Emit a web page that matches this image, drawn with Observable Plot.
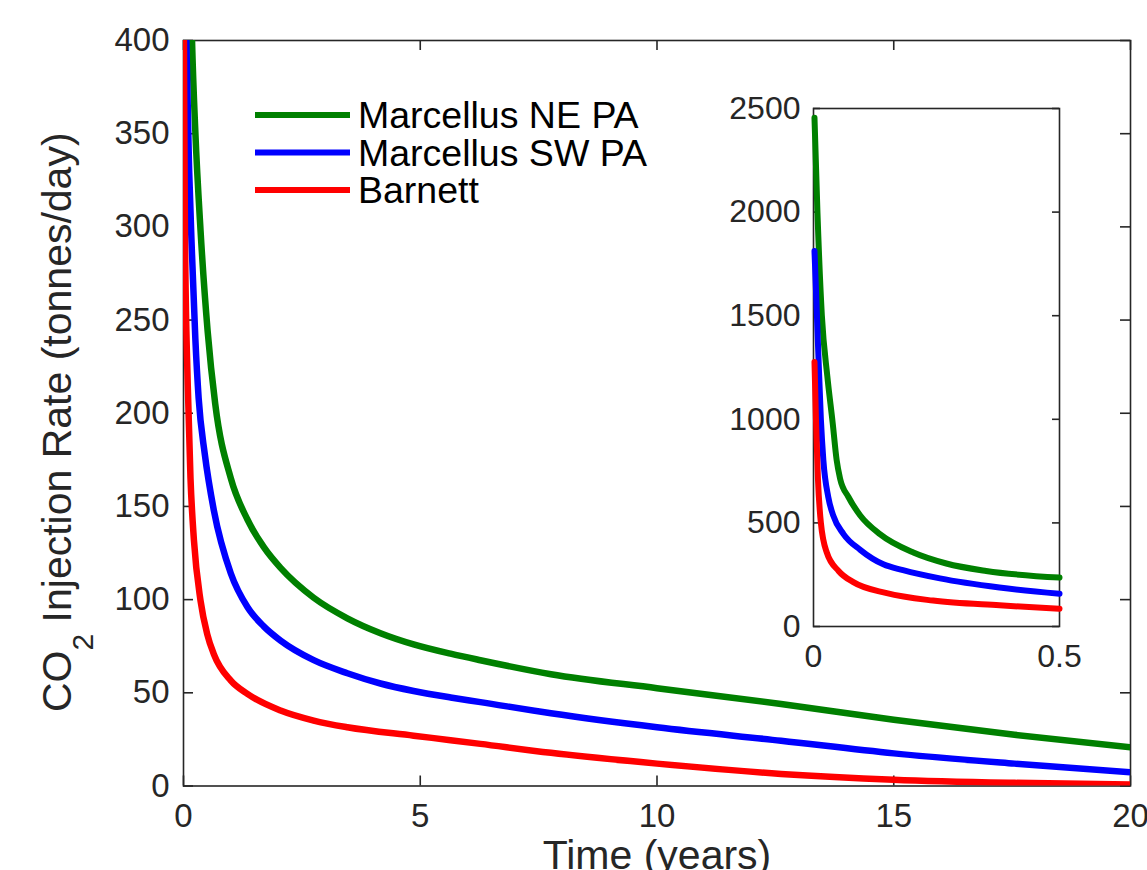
<!DOCTYPE html>
<html><head><meta charset="utf-8">
<script src="https://cdn.jsdelivr.net/npm/d3@7"></script>
<script src="https://cdn.jsdelivr.net/npm/@observablehq/plot@0.6"></script>
<style>
body{margin:0;background:#fff;}
#wrap{position:relative;width:1147px;height:870px;overflow:hidden;background:#fff;}
#wrap svg{position:absolute;}
</style></head><body><div id="wrap"></div>
<script>
// ---------- data ----------
const seriesNames = ["Marcellus NE PA", "Marcellus SW PA", "Barnett"];
const seriesColors = ["#008000", "#0000ff", "#ff0000"];

// main chart (years, tonnes/day)
const mainTimeGreen = [0.12, 0.18, 0.25, 0.36, 0.51, 0.67, 1.0, 1.35, 1.7, 2.05, 2.75, 3.46, 4.16, 4.86, 5.64, 6.27, 7.76, 10, 12.62, 15, 17.55, 20];
const mainGreen     = [470, 400, 351, 298, 244, 205, 165, 143, 128, 117, 101, 90, 82, 76, 71, 67.5, 60, 52.5, 44, 35.5, 27.5, 20.8];
const mainTimeBlue  = [0.02, 0.06, 0.12, 0.18, 0.25, 0.32, 0.45, 0.64, 1.0, 1.35, 1.7, 2.05, 2.75, 3.46, 4.16, 4.86, 5.64, 6.27, 7.76, 10, 12.62, 15, 17.55, 20];
const mainBlue      = [480, 400, 330, 285, 240, 208, 178, 148, 114, 96, 85.5, 78, 67.5, 60.5, 55, 51, 47.5, 45, 39, 31.5, 24.3, 17.5, 12, 7.4];
const mainTimeRed   = [0, 0.012, 0.03, 0.09, 0.148, 0.22, 0.36, 0.5, 0.64, 1.0, 1.35, 2.05, 2.75, 3.46, 4.86, 5.64, 6.27, 7.76, 10, 12.62, 15, 17.55, 20];
const mainRed       = [470, 380, 298, 215, 165, 132, 99.4, 81.6, 70.8, 56.5, 49.4, 40.5, 35.1, 31.5, 27, 24.6, 22.6, 17.8, 12, 6.5, 3.4, 1.7, 0.8];

// inset chart (first half year)
const insetTimeGreen = [0.002, 0.008, 0.017, 0.028, 0.039, 0.047, 0.054, 0.071, 0.095, 0.135, 0.203, 0.27, 0.351, 0.5];
const insetGreen     = [2455, 2000, 1500, 1210, 982, 804, 714, 625, 536, 446, 357, 304, 268, 236];
const insetTimeBlue  = [0.002, 0.007, 0.015, 0.02, 0.03, 0.04, 0.061, 0.095, 0.142, 0.182, 0.257, 0.378, 0.5];
const insetBlue      = [1812, 1500, 1000, 804, 625, 536, 446, 370, 300, 272, 232, 188, 158];
const insetTimeRed   = [0.002, 0.005, 0.009, 0.015, 0.027, 0.051, 0.081, 0.149, 0.243, 0.378, 0.5];
const insetRed       = [1277, 1000, 714, 500, 357, 268, 214, 161, 125, 102, 86];

// ticks
const mainXTicks = [0, 5, 10, 15, 20];
const mainYTicks = [0, 50, 100, 150, 200, 250, 300, 350, 400];
const insetXTicks = [0, 0.5];
const insetYTicks = [0, 500, 1000, 1500, 2000, 2500];

const xLabel = "Time (years)";

// ---------- build ----------
const zip = (ts, vs) => ts.map((t, i) => ({t, v: vs[i]}));
const mainSeries = [zip(mainTimeGreen, mainGreen), zip(mainTimeBlue, mainBlue), zip(mainTimeRed, mainRed)];
const insetSeries = [zip(insetTimeGreen, insetGreen), zip(insetTimeBlue, insetBlue), zip(insetTimeRed, insetRed)];

const FONT = "'Liberation Sans', Arial, Helvetica, sans-serif";
const AX = "#262626";
const W = 1147, H = 870;
const mL = 183, mR = 17, mT = 40, mB = 84.5;
const fw = W - mL - mR, fh = H - mT - mB;

const main = Plot.plot({
  width: W, height: H,
  marginLeft: mL, marginRight: mR, marginTop: mT, marginBottom: mB,
  style: {fontFamily: FONT, fontSize: "33px", color: AX, background: "transparent", overflow: "visible"},
  x: {domain: [0, 20], ticks: mainXTicks, tickSize: 0, tickPadding: 18, label: null},
  y: {domain: [0, 400], ticks: mainYTicks, tickSize: 0, tickPadding: 14, label: null},
  marks: [
    Plot.frame({stroke: AX, strokeWidth: 1.6}),
    Plot.tickX(mainXTicks, {x: d => d, insetTop: fh - 10, stroke: AX, strokeWidth: 1.6}),
    Plot.tickX(mainXTicks, {x: d => d, insetBottom: fh - 10, stroke: AX, strokeWidth: 1.6}),
    Plot.tickY(mainYTicks, {y: d => d, insetRight: fw - 10, stroke: AX, strokeWidth: 1.6}),
    Plot.tickY(mainYTicks, {y: d => d, insetLeft: fw - 10, stroke: AX, strokeWidth: 1.6}),
    ...mainSeries.map((s, i) => Plot.line(s, {x: "t", y: "v", stroke: seriesColors[i], strokeWidth: 6.5, clip: true, curve: "monotone-x", strokeLinejoin: "round"})),
    Plot.text([xLabel], {frameAnchor: "bottom", dy: 83, fontSize: 41, fill: AX, text: d => d})
  ]
});
main.style.left = "0px"; main.style.top = "0px";

const iW = 420, iH = 600, iL = 113, iR = 61, iT = 28, iB = 54;
const ifw = iW - iL - iR, ifh = iH - iT - iB;
const inset = Plot.plot({
  width: iW, height: iH,
  marginLeft: iL, marginRight: iR, marginTop: iT, marginBottom: iB,
  style: {fontFamily: FONT, fontSize: "32px", color: AX, background: "transparent", overflow: "visible"},
  x: {domain: [0, 0.5], ticks: insetXTicks, tickSize: 0, tickPadding: 18, label: null, tickFormat: d => String(d)},
  y: {domain: [0, 2500], ticks: insetYTicks, tickSize: 0, tickPadding: 13, label: null, tickFormat: d => String(d)},
  marks: [
    Plot.frame({stroke: AX, strokeWidth: 1.6}),
    Plot.tickY(insetYTicks, {y: d => d, insetRight: ifw - 7, stroke: AX, strokeWidth: 1.6}),
    Plot.tickY(insetYTicks, {y: d => d, insetLeft: ifw - 7, stroke: AX, strokeWidth: 1.6}),
    ...insetSeries.map((s, i) => Plot.line(s, {x: "t", y: "v", stroke: seriesColors[i], strokeWidth: 6, curve: "monotone-x", strokeLinejoin: "round"}))
  ]
});
inset.style.left = "700px"; inset.style.top = "80px";

const wrap = document.getElementById("wrap");
wrap.appendChild(main);
wrap.appendChild(inset);

// y-axis label with subscript
const svg = d3.select(main);
const yl = svg.append("text")
  .attr("transform", "translate(71,712) rotate(-90)")
  .attr("text-anchor", "start")
  .attr("font-family", FONT).attr("font-size", 41).attr("fill", AX);
yl.append("tspan").text("CO");
yl.append("tspan").attr("dy", 22).attr("font-size", 30).text("2");
yl.append("tspan").attr("dy", -22).text(" Injection Rate (tonnes/day)");

// legend
const lg = svg.append("g").attr("font-family", FONT).attr("font-size", 37.5).attr("text-anchor", "start");
seriesNames.forEach((name, i) => {
  const y = 115 + i * 37.5;
  lg.append("line").attr("x1", 255).attr("x2", 350).attr("y1", y).attr("y2", y)
    .attr("stroke", seriesColors[i]).attr("stroke-width", 6);
  lg.append("text").attr("x", 358).attr("y", y + 13.4).attr("fill", "#000").text(name);
});
</script></body></html>
